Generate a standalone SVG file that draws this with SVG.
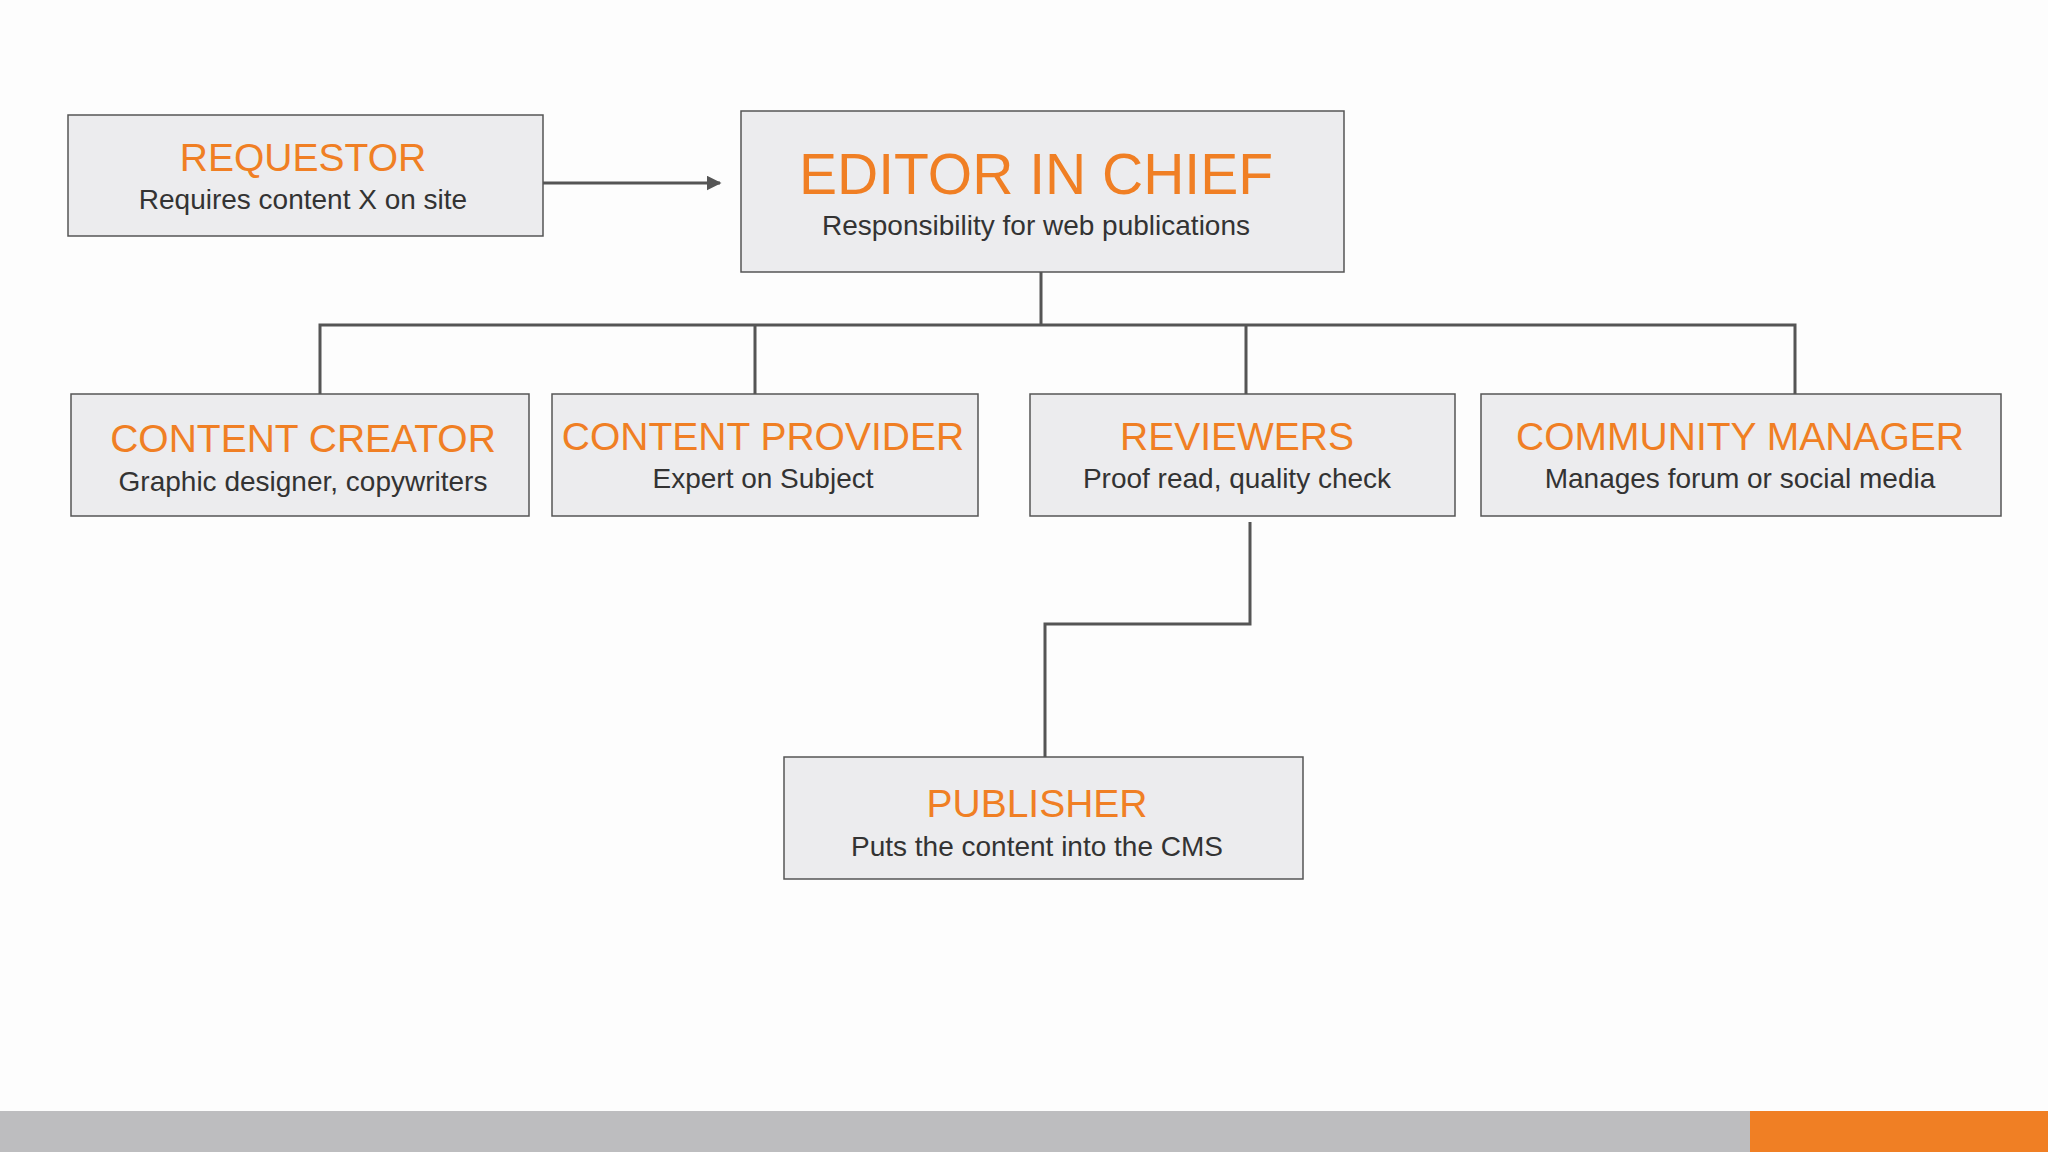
<svg xmlns="http://www.w3.org/2000/svg" width="2048" height="1152" viewBox="0 0 2048 1152">
<defs>
<style>
.box{fill:#ECECEE;stroke:#555;stroke-width:1.5}
.t{font-family:"Liberation Sans",Arial,sans-serif;fill:#F07F24;text-anchor:middle;font-size:39px}
.s{font-family:"Liberation Sans",Arial,sans-serif;fill:#333;text-anchor:middle;font-size:28px}
.c{fill:none;stroke:#555;stroke-width:3}
</style>
<marker id="ah" viewBox="0 0 10 10" refX="9" refY="5" markerWidth="5" markerHeight="5" orient="auto"><path d="M0,0L10,5L0,10z" fill="#555"/></marker>
</defs>
<rect width="2048" height="1152" fill="#FDFDFD"/>
<g id="connectors">
<path class="c" d="M543,183H720" marker-end="url(#ah)"/>
<path class="c" d="M1041,272V325M320,394V325H1795V394M755,325V394M1246,325V394"/>
<path class="c" d="M1250,522V624H1045V757"/>
</g>
<g id="requestor"><rect class="box" x="68" y="115" width="475" height="121"/><text class="t" x="303" y="171">REQUESTOR</text><text class="s" x="303" y="209">Requires content X on site</text></g>
<g id="editor"><rect class="box" x="741" y="111" width="603" height="161"/><text class="t" x="1036" y="194" style="font-size:57px">EDITOR IN CHIEF</text><text class="s" x="1036" y="235">Responsibility for web publications</text></g>
<g id="creator"><rect class="box" x="71" y="394" width="458" height="122"/><text class="t" x="303" y="452">CONTENT CREATOR</text><text class="s" x="303" y="491">Graphic designer, copywriters</text></g>
<g id="provider"><rect class="box" x="552" y="394" width="426" height="122"/><text class="t" x="763" y="450">CONTENT PROVIDER</text><text class="s" x="763" y="488">Expert on Subject</text></g>
<g id="reviewers"><rect class="box" x="1030" y="394" width="425" height="122"/><text class="t" x="1237" y="450">REVIEWERS</text><text class="s" x="1237" y="488">Proof read, quality check</text></g>
<g id="community"><rect class="box" x="1481" y="394" width="520" height="122"/><text class="t" x="1740" y="450">COMMUNITY MANAGER</text><text class="s" x="1740" y="488">Manages forum or social media</text></g>
<g id="publisher"><rect class="box" x="784" y="757" width="519" height="122"/><text class="t" x="1037" y="817">PUBLISHER</text><text class="s" x="1037" y="856">Puts the content into the CMS</text></g>
<rect x="0" y="1111" width="1750" height="41" fill="#BDBDBF"/>
<rect x="1750" y="1111" width="298" height="41" fill="#F07F24"/>
</svg>
